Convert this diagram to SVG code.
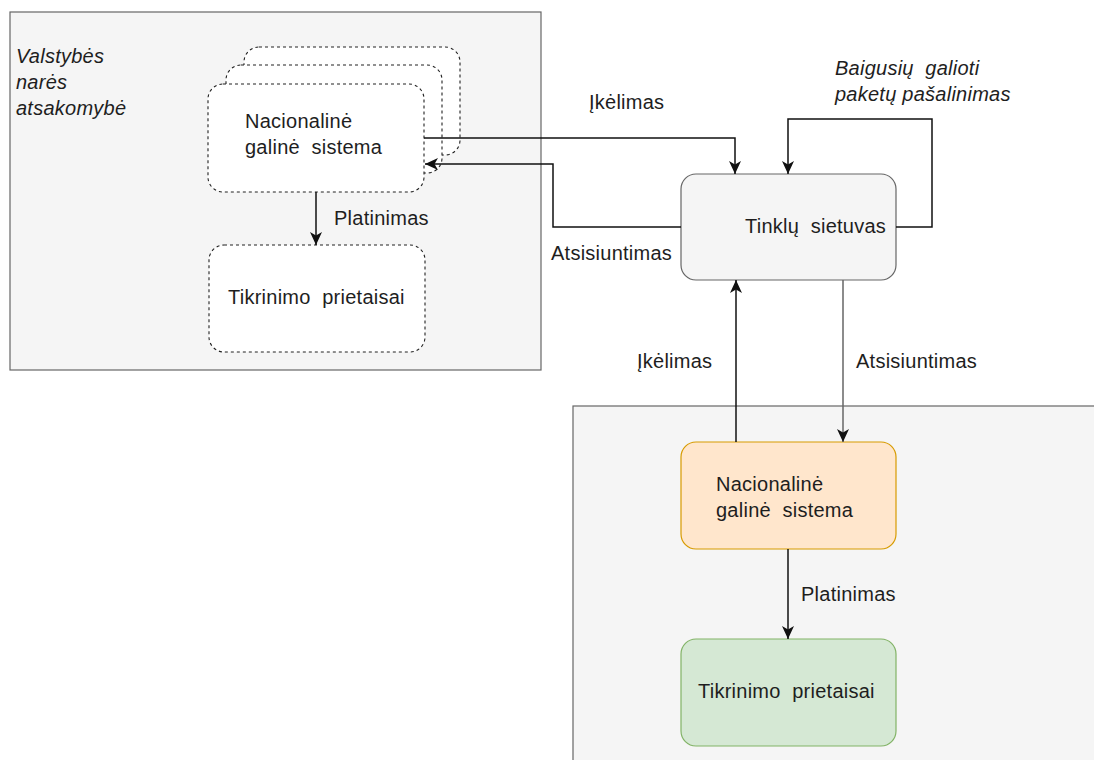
<svg xmlns="http://www.w3.org/2000/svg" width="1094" height="760" viewBox="0 0 1094 760">
<defs>
<style>
text{font-family:"Liberation Sans",Arial,sans-serif;font-size:20px;fill:#1e1e1e;letter-spacing:0.25px;white-space:pre}
.it{font-style:italic}
.cont{fill:#f5f5f5;stroke:#666;stroke-width:1.2}
.dash{fill:#fff;stroke:#222;stroke-width:1.1;stroke-dasharray:3 3}
.gw{fill:#f5f5f5;stroke:#666;stroke-width:1.2}
.or{fill:#ffe6cc;stroke:#d79b00;stroke-width:1.2}
.gr{fill:#d5e8d4;stroke:#82b366;stroke-width:1.2}
.ln{fill:none;stroke:#111;stroke-width:1.5}
.lg{fill:none;stroke:#666;stroke-width:1.5}
</style>
<marker id="ah" markerUnits="userSpaceOnUse" markerWidth="16" markerHeight="16" viewBox="0 0 16 16" refX="14" refY="8" orient="auto">
<path d="M1,2 L14,8 L1,14 L4.5,8 Z" fill="#111"/>
</marker>
</defs>
<rect width="1094" height="760" fill="#fff"/>
<g id="container-left">
<rect class="cont" x="10" y="12" width="531" height="358"/>
<text class="it" x="16" y="63">Valstybės</text>
<text class="it" x="16" y="89">narės</text>
<text class="it" x="16" y="115">atsakomybė</text>
</g>
<g id="container-bottom">
<rect class="cont" x="573" y="406" width="540" height="370"/>
</g>
<g id="node-nac-left">
<rect class="dash" x="244" y="47" width="216" height="108" rx="15"/>
<rect class="dash" x="226" y="65" width="216" height="108" rx="15"/>
<rect class="dash" x="208" y="84" width="216" height="108" rx="15"/>
<text x="245" y="128">Nacionalinė</text>
<text x="245" y="154">galinė  sistema</text>
</g>
<g id="node-tik-left">
<rect class="dash" x="209" y="245" width="216" height="107" rx="15"/>
<text x="228" y="304">Tikrinimo  prietaisai</text>
</g>
<g id="node-gateway">
<rect class="gw" x="681" y="174" width="215" height="106" rx="15"/>
<text x="745" y="233">Tinklų  sietuvas</text>
</g>
<g id="node-nac-bottom">
<rect class="or" x="681" y="442" width="215" height="107" rx="15"/>
<text x="716" y="491">Nacionalinė</text>
<text x="716" y="517">galinė  sistema</text>
</g>
<g id="node-tik-bottom">
<rect class="gr" x="681" y="639" width="215" height="107" rx="15"/>
<text x="698" y="698">Tikrinimo  prietaisai</text>
</g>
<g id="connectors">
<path class="ln" d="M316,192 L316,245" marker-end="url(#ah)"/>
<path class="ln" d="M424,138 L735,138 L735,174" marker-end="url(#ah)"/>
<path class="ln" d="M681,227 L553,227 L553,164 L425,164" marker-end="url(#ah)"/>
<path class="ln" d="M896,227 L932,227 L932,119 L788,119 L788,174" marker-end="url(#ah)"/>
<path class="ln" d="M736,442 L736,280" marker-end="url(#ah)"/>
<path class="lg" d="M843,280 L843,442" marker-end="url(#ah)"/>
<path class="ln" d="M788,549 L788,639" marker-end="url(#ah)"/>
</g>
<g id="labels">
<text x="334" y="225">Platinimas</text>
<text x="589" y="109">Įkėlimas</text>
<text x="551" y="260">Atsisiuntimas</text>
<text class="it" x="835" y="75">Baigusių  galioti</text>
<text class="it" x="835" y="101">paketų pašalinimas</text>
<text x="637" y="368">Įkėlimas</text>
<text x="856" y="368">Atsisiuntimas</text>
<text x="801" y="601">Platinimas</text>
</g>
</svg>
